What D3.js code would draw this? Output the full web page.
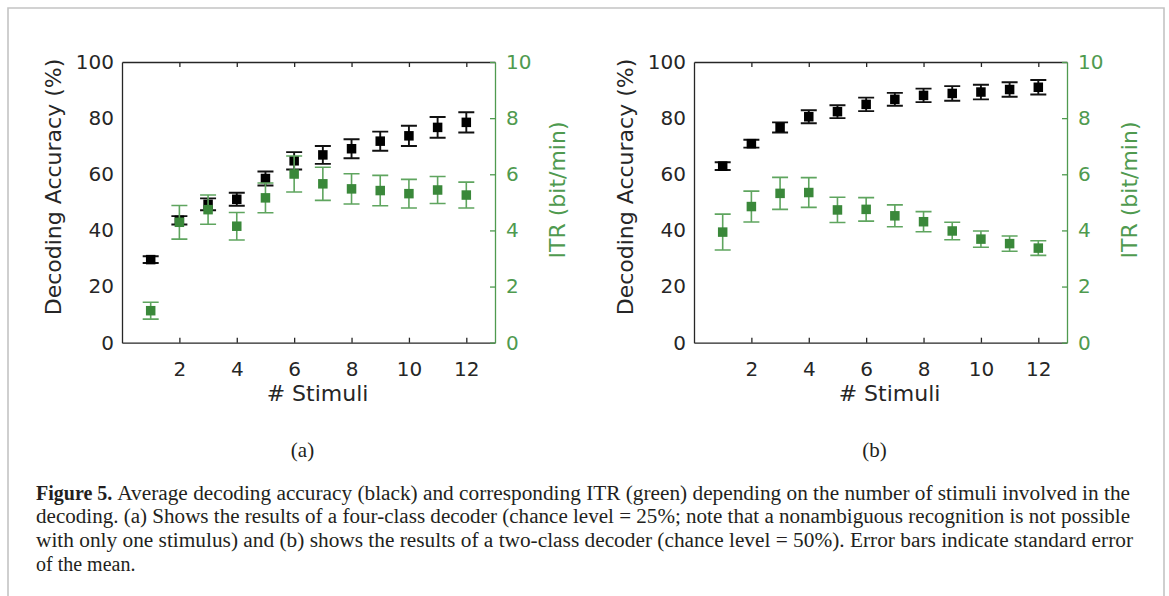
<!DOCTYPE html>
<html>
<head>
<meta charset="utf-8">
<script src="https://cdn.jsdelivr.net/npm/d3@7"></script>
<style>
  body { margin: 0; background: #fff; }
  .tick text { font-family: "DejaVu Sans", sans-serif; font-size: 20px; }
</style>
</head>
<body>
<div id="chart"></div>
<script>
// values
const stimuli = [1, 2, 3, 4, 5, 6, 7, 8, 9, 10, 11, 12];
const xTicks = [2, 4, 6, 8, 10, 12];
const accTicks = [0, 20, 40, 60, 80, 100];
const itrTicks = [0, 2, 4, 6, 8, 10];

// (a) four-class decoder
const accA = [29.6, 43.6, 49.3, 51.1, 58.5, 64.8, 66.9, 69.1, 71.8, 73.7, 76.7, 78.5];
const accErrA = [1.2, 1.5, 2.1, 2.3, 2.5, 3.1, 3.2, 3.4, 3.4, 3.6, 3.7, 3.6];
const itrA = [1.14, 4.29, 4.74, 4.15, 5.16, 6.01, 5.66, 5.48, 5.42, 5.31, 5.44, 5.26];
const itrErrA = [0.30, 0.60, 0.52, 0.49, 0.53, 0.64, 0.59, 0.54, 0.54, 0.51, 0.48, 0.46];

// (b) two-class decoder
const accB = [62.9, 70.9, 76.7, 80.5, 82.3, 84.9, 86.7, 88.1, 88.8, 89.3, 90.2, 91.0];
const accErrB = [1.4, 1.4, 1.8, 2.3, 2.3, 2.4, 2.3, 2.4, 2.6, 2.6, 2.6, 2.6];
const itrB = [3.94, 4.85, 5.32, 5.35, 4.73, 4.75, 4.52, 4.31, 3.98, 3.69, 3.53, 3.37];
const itrErrB = [0.64, 0.55, 0.57, 0.53, 0.45, 0.42, 0.39, 0.36, 0.31, 0.29, 0.27, 0.26];

const captionLines = [
    "Average decoding accuracy (black) and corresponding ITR (green) depending on the number of stimuli involved in the",
    "decoding. (a) Shows the results of a four-class decoder (chance level = 25%; note that a nonambiguous recognition is not possible",
    "with only one stimulus) and (b) shows the results of a two-class decoder (chance level = 50%). Error bars indicate standard error",
    "of the mean."
];

const W = 1169, H = 596;
const axisColor = "#262626";
const greenAxis = "#4f9a4f";
const greenMark = "#3a883a";
const greenBar = "#5fa55f";

const svg = d3.select("#chart")
    .append("svg")
    .attr("width", W)
    .attr("height", H);

svg.append("rect").attr("width", W).attr("height", H).attr("fill", "#fff");

// outer frame
svg.append("path")
    .attr("d", `M8,${H}V8H1164V${H}`)
    .attr("fill", "none")
    .attr("stroke", "#c4c4c4")
    .attr("stroke-width", 1.6);

function drawPanel(left, acc, accErr, itr, itrErr, tag) {
    const x0 = left, x1 = left + 373, y0 = 62, y1 = 342.7;
    const g = svg.append("g");

    const x = d3.scaleLinear().domain([0, 13]).range([x0, x1]);
    const yAcc = d3.scaleLinear().domain([0, 100]).range([y1, y0]);
    const yItr = d3.scaleLinear().domain([0, 10]).range([y1, y0]);

    // top axis: ticks only
    const top = g.append("g")
        .attr("transform", `translate(0,${y0})`)
        .call(d3.axisTop(x).tickValues(xTicks).tickSizeInner(-5).tickSizeOuter(0).tickFormat(""));

    const bottom = g.append("g")
        .attr("transform", `translate(0,${y1})`)
        .call(d3.axisBottom(x).tickValues(xTicks).tickSizeInner(-5).tickSizeOuter(0).tickPadding(19));

    const leftAx = g.append("g")
        .attr("transform", `translate(${x0},0)`)
        .call(d3.axisLeft(yAcc).tickValues(accTicks).tickSize(0).tickPadding(8));

    const rightAx = g.append("g")
        .attr("transform", `translate(${x1},0)`)
        .call(d3.axisRight(yItr).tickValues(itrTicks).tickSizeInner(-5).tickSizeOuter(0).tickPadding(11));

    [top, bottom, leftAx].forEach(a => {
        a.selectAll("path, line").attr("stroke", axisColor).attr("stroke-width", 1.3);
        a.selectAll("text").attr("fill", axisColor);
    });
    rightAx.selectAll("path, line").attr("stroke", greenAxis).attr("stroke-width", 1.3);
    rightAx.selectAll("text").attr("fill", greenAxis);

    // axis titles
    g.append("text")
        .attr("x", (x0 + x1) / 2 + 9)
        .attr("y", 401)
        .attr("text-anchor", "middle")
        .attr("font-family", "DejaVu Sans, sans-serif")
        .attr("font-size", 22)
        .attr("fill", axisColor)
        .text("# Stimuli");

    g.append("text")
        .attr("transform", `translate(${x0 - 69},187) rotate(-90)`)
        .attr("text-anchor", "middle")
        .attr("dominant-baseline", "central")
        .attr("font-family", "DejaVu Sans, sans-serif")
        .attr("font-size", 22)
        .attr("fill", axisColor)
        .text("Decoding Accuracy (%)");

    g.append("text")
        .attr("transform", `translate(${x1 + 62},190) rotate(-90)`)
        .attr("text-anchor", "middle")
        .attr("dominant-baseline", "central")
        .attr("font-family", "DejaVu Sans, sans-serif")
        .attr("font-size", 22)
        .attr("fill", greenAxis)
        .text("ITR (bit/min)");

    // error bars + square markers
    const cap = 8, sq = 9.5;
    function series(vals, errs, y, barColor, markColor, bw) {
        const pts = stimuli.map((s, i) => ({ s, v: vals[i], e: errs[i] }));
        const eb = g.append("g").attr("stroke", barColor).attr("stroke-width", bw).attr("fill", "none");
        eb.selectAll("path")
            .data(pts)
            .enter()
            .append("path")
            .attr("d", d => {
                const cx = x(d.s), lo = y(d.v - d.e), hi = y(d.v + d.e);
                return `M${cx - cap},${hi}H${cx + cap}M${cx},${hi}V${lo}M${cx - cap},${lo}H${cx + cap}`;
            });
        g.append("g").selectAll("rect")
            .data(pts)
            .enter()
            .append("rect")
            .attr("x", d => x(d.s) - sq / 2)
            .attr("y", d => y(d.v) - sq / 2)
            .attr("width", sq)
            .attr("height", sq)
            .attr("fill", markColor);
    }
    series(acc, accErr, yAcc, "#111", "#000", 1.9);
    series(itr, itrErr, yItr, greenBar, greenMark, 1.6);

    svg.append("text")
        .attr("x", (x0 + x1) / 2 - 6)
        .attr("y", 457)
        .attr("text-anchor", "middle")
        .attr("font-family", "Liberation Serif, serif")
        .attr("font-size", 21)
        .attr("fill", "#231f20")
        .text(tag);
}

drawPanel(122, accA, accErrA, itrA, itrErrA, "(a)");
drawPanel(694, accB, accErrB, itrB, itrErrB, "(b)");

// caption
const capX = 36, capRight = 1130, capTop = 499.5, lineH = 23.8;
const cap = svg.append("g")
    .attr("font-family", "Liberation Serif, serif")
    .attr("font-size", 20)
    .attr("fill", "#231f20");

const bold = cap.append("text")
    .attr("x", capX)
    .attr("y", capTop)
    .attr("font-weight", "bold")
    .text("Figure 5.");
const bw = bold.node().getComputedTextLength() + 5;

captionLines.forEach((line, i) => {
    const sx = i === 0 ? capX + bw : capX;
    const t = cap.append("text")
        .attr("x", sx)
        .attr("y", capTop + i * lineH)
        .text(line);
    if (i < 3) {
        t.attr("textLength", (i === 2 ? capRight + 3 : capRight) - sx)
            .attr("lengthAdjust", "spacingAndGlyphs");
    }
});
</script>
</body>
</html>
